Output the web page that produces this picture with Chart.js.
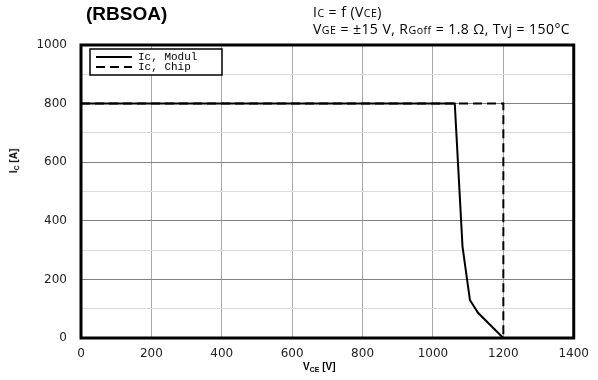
<!DOCTYPE html>
<html>
<head>
<meta charset="utf-8">
<script src="https://cdn.jsdelivr.net/npm/chart.js@4"></script>
<style>
  body { margin:0; background:#fff; }
  #wrap { position:relative; width:598px; height:380px; overflow:hidden; }
  canvas { position:absolute; left:0; top:0; }
  .t { position:absolute; font-family:"Liberation Sans", Arial, sans-serif; color:#000; white-space:nowrap; }
  .sm { font-size:0.76em; }
  .sub { font-size:0.7em; vertical-align:-0.25em; }
</style>
</head>
<body>
<div id="wrap">
  <canvas id="c" width="598" height="380"></canvas>
  <div class="t" style="left:86px;top:3px;font-size:19px;font-weight:bold;">(RBSOA)</div>
  <div class="t" style="left:313px;top:4px;font-size:14px;letter-spacing:0.45px;line-height:16px;font-family:'Open Sans', sans-serif;">
    I<span class="sm">C</span> = f (V<span class="sm">CE</span>)<br>
    V<span class="sm">GE</span> = ±15 V, R<span class="sm">Goff</span> = 1.8 Ω, Tvj = 150°C
  </div>
  <div class="t" style="left:303px;top:361px;font-size:10px;font-weight:bold;">V<span class="sub">CE</span> [V]</div>
  <div class="t" style="left:-8px;top:155px;font-size:10px;font-weight:bold;transform:rotate(-90deg);transform-origin:center;width:44px;text-align:center;">I<span class="sub">C</span> [A]</div>
</div>
<script>
const moduleV = [0, 1062, 1084, 1105, 1128, 1200];
const moduleI = [800, 800, 312, 130, 86, 0];
const chipV = [0, 1200, 1200];
const chipI = [800, 800, 0];
const xTicks = [0, 200, 400, 600, 800, 1000, 1200, 1400];
const yTicks = [0, 200, 400, 600, 800, 1000];
const seriesLabels = ['Ic, Modul', 'Ic, Chip'];

const toPts = (xs, ys) => xs.map((x, i) => ({x: x, y: ys[i]}));

const frame = {
  id: 'frame',
  afterDatasetsDraw(chart) {
    const {ctx, chartArea: a} = chart;
    ctx.save();
    ctx.strokeStyle = '#000';
    ctx.lineWidth = 3;
    ctx.strokeRect(a.left, a.top, a.right - a.left, a.bottom - a.top);
    const lx = a.left + 9, ly = a.top + 4, lw = 132, lh = 26;
    ctx.fillStyle = '#fff';
    ctx.fillRect(lx, ly, lw, lh);
    ctx.lineWidth = 1.5;
    ctx.strokeRect(lx, ly, lw, lh);
    chart.data.datasets.forEach((ds, i) => {
      const yy = ly + 8 + i * 10;
      ctx.beginPath();
      ctx.setLineDash(ds.borderDash || []);
      ctx.lineWidth = 2;
      ctx.moveTo(lx + 6, yy);
      ctx.lineTo(lx + 42, yy);
      ctx.stroke();
      ctx.setLineDash([]);
      ctx.fillStyle = '#000';
      ctx.font = '11px "Liberation Mono", "DejaVu Sans Mono", monospace';
      ctx.textBaseline = 'middle';
      ctx.fillText(ds.label, lx + 48, yy);
    });
    ctx.restore();
  }
};

new Chart(document.getElementById('c'), {
  type: 'scatter',
  data: {
    datasets: [
      { label: seriesLabels[0], data: toPts(moduleV, moduleI), showLine: true, borderColor: '#000', borderWidth: 2, pointRadius: 0, tension: 0 },
      { label: seriesLabels[1], data: toPts(chipV, chipI), showLine: true, borderColor: '#000', borderWidth: 2, borderDash: [9, 5], pointRadius: 0, tension: 0 }
    ]
  },
  options: {
    responsive: false,
    animation: false,
    devicePixelRatio: 1,
    layout: { padding: { top: 45, right: 22, left: 0, bottom: 0 } },
    plugins: { legend: { display: false }, tooltip: { enabled: false } },
    scales: {
      x: {
        type: 'linear', min: 0, max: 1400,
        afterBuildTicks: s => { s.ticks = xTicks.map(v => ({value: v})); },
        afterFit: s => { s.height = 42; },
        ticks: { font: { family: 'DejaVu Sans', size: 12 }, color: '#222', padding: 9, maxRotation: 0,
                 callback: v => String(v) },
        grid: { color: '#a8a8a8', lineWidth: 1, drawTicks: false },
        border: { display: false }
      },
      y: {
        type: 'linear', min: 0, max: 1000,
        ticks: {
          stepSize: 100,
          font: { family: 'DejaVu Sans', size: 12 }, color: '#222', padding: 14,
          callback: v => yTicks.includes(v) ? String(v) : ''
        },
        afterFit: s => { s.width = 81; },
        grid: {
          drawTicks: false, lineWidth: 1,
          color: c => (c.tick && c.tick.value % 200 === 0) ? '#808080' : '#dcdcdc'
        },
        border: { display: false }
      }
    }
  },
  plugins: [frame]
});
</script>
</body>
</html>
